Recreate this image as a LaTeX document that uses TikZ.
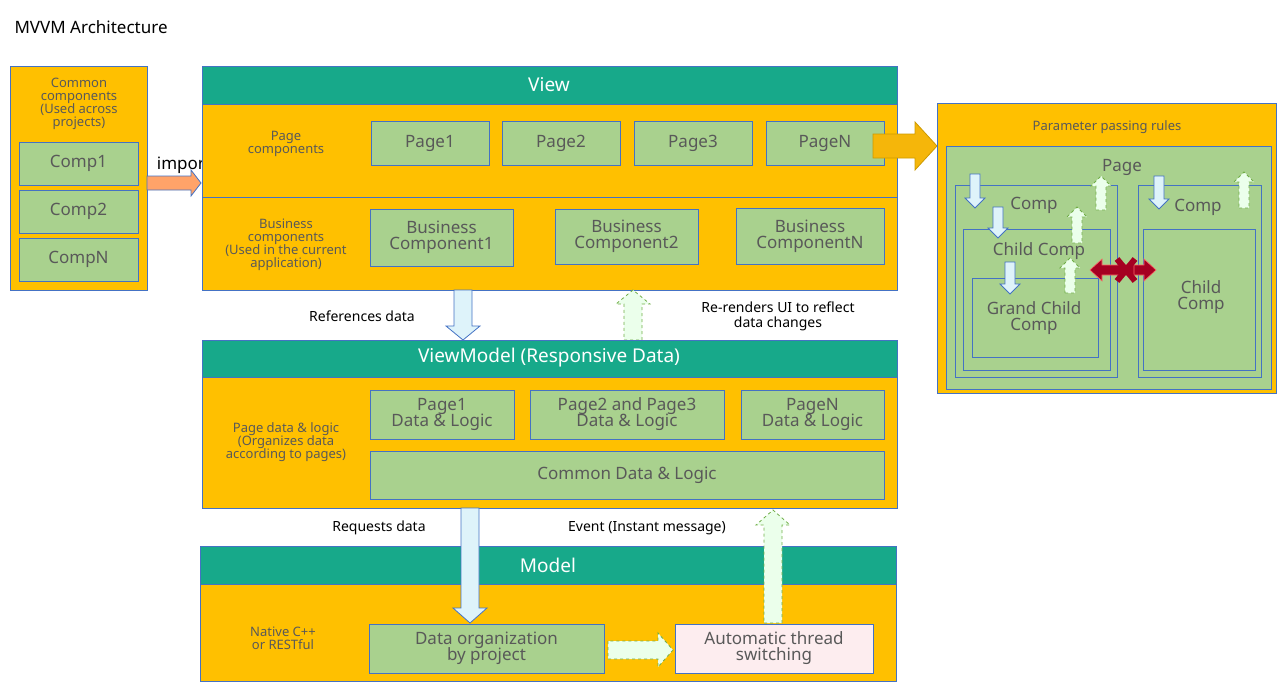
\documentclass[tikz,border=0pt]{standalone}
\usepackage{fontspec}
\setmainfont{Noto Sans}
\begin{document}
\definecolor{org}{HTML}{FFC000}
\definecolor{teal}{HTML}{17A98A}
\definecolor{grn}{HTML}{A9D18E}
\definecolor{bl}{HTML}{4472C4}
\definecolor{txt}{HTML}{595959}
\definecolor{lb}{HTML}{DEF3FA}
\definecolor{dgr}{HTML}{70AD47}
\definecolor{pk}{HTML}{FDEDEF}
\definecolor{dred}{HTML}{A50021}
\newcommand\vArrow[7]{\draw[#1] ({#2-#5},#3)--({#2+#5},#3)--({#2+#5},{#4-#7})--({#2+#6},{#4-#7})--(#2,#4)--({#2-#6},{#4-#7})--({#2-#5},{#4-#7})--cycle;}
\newcommand\hArrow[7]{\draw[#1] (#3,{#2-#5})--(#3,{#2+#5})--({#4-#7},{#2+#5})--({#4-#7},{#2+#6})--(#4,#2)--({#4-#7},{#2-#6})--({#4-#7},{#2-#5})--cycle;}
\begin{tikzpicture}[x=1pt,y=-1pt,
 box/.style={draw=bl,line width=0.9pt},
 ob/.style={box,fill=org},
 hd/.style={box,fill=teal},
 gb/.style={box,fill=grn},
 t/.style={text=txt,font=\fontsize{17}{19}\selectfont,align=center},
 lbl/.style={text=txt,font=\fontsize{13}{15}\selectfont,align=center},
 ht/.style={text=white,font=\fontsize{19}{21}\selectfont},
 dn/.style={draw=bl,fill=lb,line width=0.8pt},
 up/.style={draw=dgr,fill=white!92!green,dashed,line width=0.8pt},
 blk/.style={font=\fontsize{14}{17}\selectfont,align=center}]
\useasboundingbox (0,0) rectangle (1278,696);
\node[anchor=west,font=\bfseries\fontsize{17}{20}\selectfont] (title) at (11,27) {MVVM Architecture};
% common
\draw[ob] (10,66) rectangle (147,290);
\node[lbl] (ct) at (79,104) {\textbf{Common}\\[-2pt]\textbf{components}\\[-2pt](Used across\\[-2pt]projects)};
\draw[gb] (19,142) rectangle (138,185); \node[t] (c1) at (78.5,163.5) {Comp1};
\draw[gb] (19,190) rectangle (138,233); \node[t] (c2) at (78.5,211.5) {Comp2};
\draw[gb] (19,238) rectangle (138,281); \node[t] (cn) at (78.5,259.5) {CompN};
\hArrow{draw=bl,fill=orange!45!pink,line width=0.8pt}{183}{147}{201}{7}{13}{10}
\node[font=\fontsize{17}{19}\selectfont] (imp) at (184,165) {import};
% view
\draw[hd] (202,66) rectangle (897,104); \node[ht] (vh) at (549,85) {View};
\draw[ob] (202,104) rectangle (897,197);
\draw[ob] (202,197) rectangle (897,290);
\node[lbl] (pcl) at (286,144) {\textbf{Page}\\[-2pt]\textbf{components}};
\draw[gb] (371,121) rectangle (489,165); \node[t] (p1) at (430,143) {Page1};
\draw[gb] (502,121) rectangle (620,165); \node[t] (p2) at (561,143) {Page2};
\draw[gb] (634,121) rectangle (752,165); \node[t] (p3) at (693,143) {Page3};
\draw[gb] (766,121) rectangle (884,165); \node[t] (pn) at (825,143) {PageN};
\node[lbl] (bcl) at (286,245) {\textbf{Business}\\[-2pt]\textbf{components}\\[-2pt](Used in the current\\[-2pt]application)};
\draw[gb] (370,209) rectangle (513,266); \node[t] (b1) at (441.5,237.5) {Business\\[-3pt]Component1};
\draw[gb] (555,209) rectangle (698,264); \node[t] (b2) at (626.5,236.5) {Business\\[-3pt]Component2};
\draw[gb] (736,208) rectangle (884,264); \node[t] (bn) at (810,236) {Business\\[-3pt]ComponentN};
\hArrow{draw=org!80!black,fill=org!85!brown,line width=0.8pt}{146}{873}{937}{12}{24}{22}
% parameter rules
\draw[ob] (937,103) rectangle (1276,393);
\node[lbl] (prt) at (1107,127) {\textbf{Parameter passing rules}};
\draw[gb] (946,146) rectangle (1271,389);
\node[t] (pg) at (1122,167) {Page};
\draw[box] (955,185) rectangle (1117,377); \node[t] (cmpl) at (1034,205) {Comp};
\draw[box] (963,229) rectangle (1110,370); \node[t] (ccl) at (1039,251) {Child Comp};
\draw[box] (972,278) rectangle (1098,357); \node[t] (gcl) at (1034,318) {Grand Child\\[-3pt]Comp};
\draw[box] (1138,185) rectangle (1261,377); \node[t] (cmpr) at (1198,207) {Comp};
\draw[box] (1143,229) rectangle (1255,370); \node[t] (ccr) at (1201,297) {Child\\[-3pt]Comp};
\vArrow{dn}{975}{174}{208}{5}{10}{10}
\vArrow{dn}{998}{207}{238}{5}{10}{10}
\vArrow{dn}{1010}{262}{294}{5}{10}{10}
\vArrow{dn}{1159}{176}{209}{5}{10}{10}
\vArrow{up}{1101}{210}{176}{5}{10}{-10}
\vArrow{up}{1077}{243}{207}{5}{10}{-10}
\vArrow{up}{1070}{293}{258}{5}{10}{-10}
\vArrow{up}{1244}{208}{172}{5}{10}{-10}
\hArrow{draw=red!60,fill=dred,line width=0.6pt}{270}{1118}{1156}{5}{11}{12}
\hArrow{draw=red!60,fill=dred,line width=0.6pt}{270}{1134}{1090}{5}{11}{-12}
\draw[dred,line width=6pt] (1117,259)--(1135,281) (1117,281)--(1135,259);
% view-viewmodel arrows
\vArrow{dn}{463}{290}{340}{9}{17}{14}
\node[blk] (rd) at (362,316) {References data};
\vArrow{up}{633}{340}{290}{9}{17}{-14}
\node[blk] (rr) at (778,316) {Re-renders UI to reflect\\[-2pt]data changes};
% viewmodel
\draw[hd] (202,340) rectangle (897,377); \node[ht] (vmh) at (549,358) {ViewModel (Responsive Data)};
\draw[ob] (202,377) rectangle (897,508);
\node[lbl] (pdl) at (286,442) {\textbf{Page data \& logic}\\[-2pt](Organizes data\\[-2pt]according to pages)};
\draw[gb] (370,390) rectangle (514,439); \node[t] (d1) at (442,414.5) {Page1\\[-3pt]Data \& Logic};
\draw[gb] (530,390) rectangle (724,439); \node[t] (d2) at (627,414.5) {Page2 and Page3\\[-3pt]Data \& Logic};
\draw[gb] (741,390) rectangle (884,439); \node[t] (dn) at (812.5,414.5) {PageN\\[-3pt]Data \& Logic};
\draw[gb] (370,451) rectangle (884,499); \node[t] (cd) at (627,475) {Common Data \& Logic};
% vm-model arrows
\node[blk] (rq) at (379,528) {Requests data};
\node[blk] (ev) at (647,528) {Event (Instant message)};
% model
\draw[hd] (200,546) rectangle (896,584); \node[ht] (mh) at (548,565) {Model};
\draw[ob] (200,584) rectangle (896,681);
\node[lbl] (ncl) at (283,638) {\textbf{Native C++}\\[-2pt]\textbf{or RESTful}};
\draw[gb] (369,624) rectangle (604,673); \node[t] (dorg) at (486.5,648.5) {Data organization\\[-3pt]by project};
\draw[box,fill=pk] (675,624) rectangle (873,673); \node[t] (ats) at (774,648.5) {Automatic thread\\[-3pt]switching};
\hArrow{up}{650}{608}{673}{9}{17}{15}
\vArrow{dn}{470}{508}{623}{9}{17}{15}
\vArrow{up}{773}{623}{510}{9}{17}{-15}
\end{tikzpicture}
\end{document}
